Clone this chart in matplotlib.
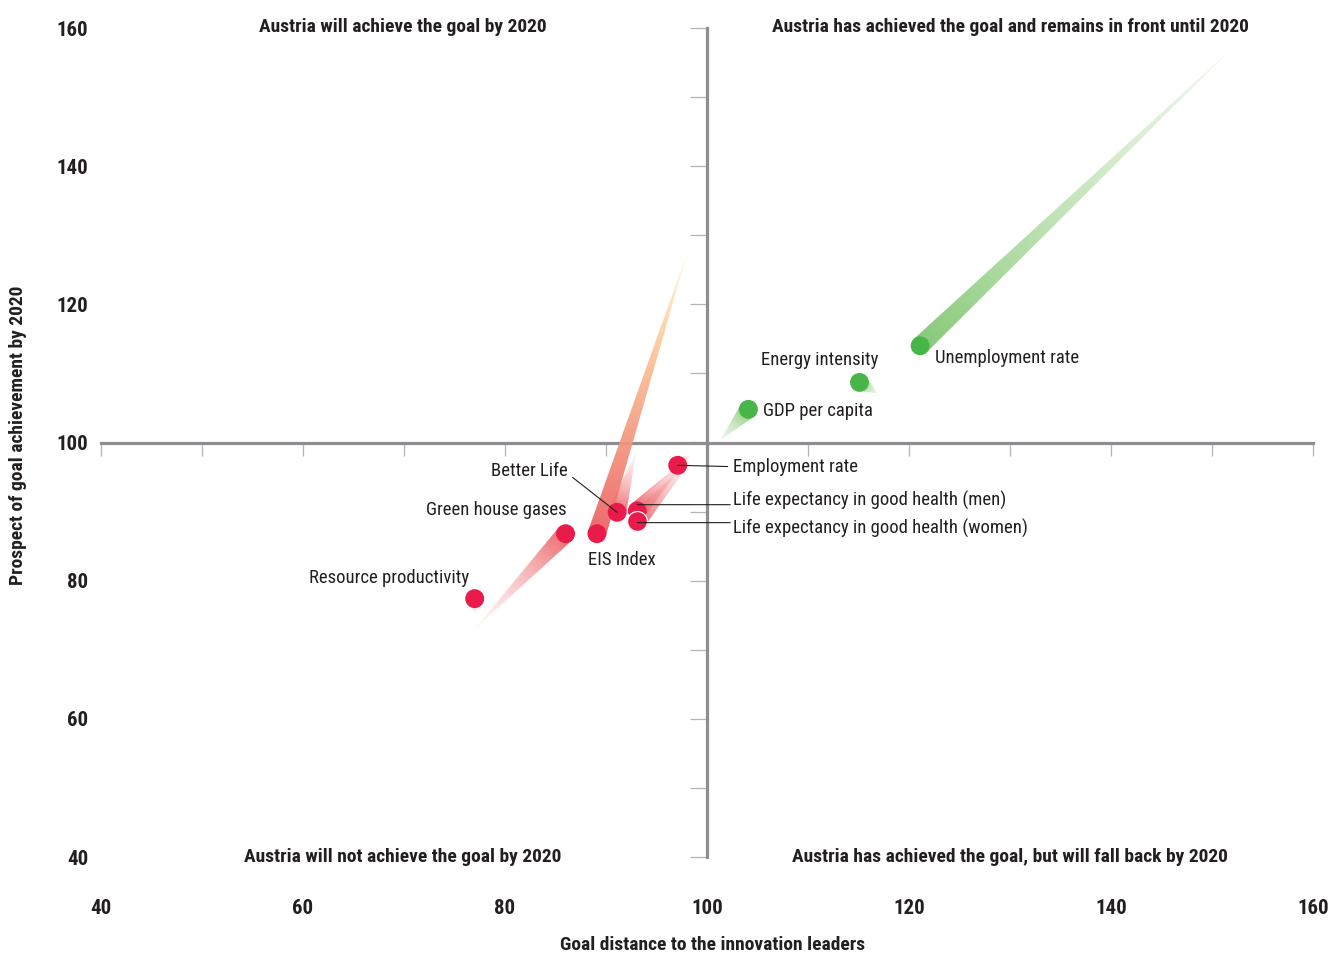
import numpy as np
import matplotlib
matplotlib.use("Agg")
import matplotlib.pyplot as plt
from matplotlib.patches import Polygon
from matplotlib import font_manager

# ---------------- data ----------------
names = ["Unemployment rate", "Energy intensity", "GDP per capita", "Employment rate",
         "Life expectancy in good health (men)", "Life expectancy in good health (women)",
         "Better Life", "EIS Index", "Green house gases", "Resource productivity"]
x_now = [121.1, 115.1, 104.1, 97.1, 93.1, 93.1, 91.1, 89.1, 86.0, 77.0]
y_now = [114.0, 108.7, 104.8, 96.7, 90.1, 88.7, 89.9, 86.8, 86.8, 77.4]
x_end = [151.8, 116.9, 101.3, 98.3, 98.2, 98.6, 93.0, 98.05, 77.0, 77.0]
y_end = [156.8, 107.1, 100.3, 98.1, 98.0, 97.7, 98.7, 127.5, 73.0, 75.3]
status = ["green", "green", "green", "red", "red", "red", "red", "orange", "red", "red"]

ticks = [40, 60, 80, 100, 120, 140, 160]
quad_titles = ["Austria will achieve the goal by 2020",
               "Austria has achieved the goal and remains in front until 2020",
               "Austria will not achieve the goal by 2020",
               "Austria has achieved the goal, but will fall back by 2020"]
xlabel = "Goal distance to the innovation leaders"
ylabel = "Prospect of goal achievement by 2020"


def pick(fams):
    for f in fams:
        try:
            font_manager.findfont(f, fallback_to_default=False)
            return f
        except Exception:
            pass
    return "DejaVu Sans"


FONT = pick(["Liberation Sans Narrow", "Roboto Condensed", "Liberation Sans", "Roboto"])
plt.rcParams["font.family"] = [FONT, "DejaVu Sans"]

DOT = {"green": "#47b548", "red": "#ea1a4b", "orange": "#ea1a4b"}
TRAIL = {
    "green": [(0.0, (0.53, 0.79, 0.47, 1.0)), (1.0, (0.82, 0.92, 0.78, 0.35))],
    "red": [(0.0, (0.93, 0.38, 0.40, 0.95)), (1.0, (0.99, 0.86, 0.86, 0.25))],
    "orange": [(0.0, (0.93, 0.38, 0.40, 0.95)), (0.35, (0.96, 0.60, 0.50, 0.92)),
               (0.7, (0.99, 0.78, 0.58, 0.85)), (1.0, (1.0, 0.95, 0.80, 0.6))],
}

W, H = 1333, 955
fig = plt.figure(figsize=(W / 100, H / 100), dpi=100)
rect = [101 / W, 1 - 857 / H, (1313 - 101) / W, (857 - 28) / H]

# axis lines (centre cross) on a background axes
axb = fig.add_axes(rect, zorder=0)
axb.set_xlim(40, 160)
axb.set_ylim(40, 160)
for s in ["top", "right"]:
    axb.spines[s].set_visible(False)
axb.spines["left"].set_position(("data", 100))
axb.spines["bottom"].set_position(("data", 100))
for s in ["left", "bottom"]:
    axb.spines[s].set_color("#8e8e92")
    axb.spines[s].set_linewidth(2.3)
axb.set_xticks(np.arange(40, 161, 10))
axb.set_yticks(np.arange(40, 161, 10))
axb.tick_params(axis="y", direction="out", length=12, width=0.9, color="#b4b4b6", labelleft=False)
axb.tick_params(axis="x", direction="out", length=9.5, width=0.9, color="#b4b4b6", labelbottom=False)
axb.patch.set_visible(False)

# main axes
ax = fig.add_axes(rect, zorder=1)
ax.patch.set_visible(False)
ax.set_xlim(40, 160)
ax.set_ylim(40, 160)
ax.set_autoscale_on(False)
for s in ax.spines.values():
    s.set_visible(False)
ax.set_xticks(ticks)
ax.set_yticks(ticks)
ax.set_xticklabels([str(t) for t in ticks], fontsize=15, fontweight="bold", color="#231f20")
ax.set_yticklabels([str(t) for t in ticks], fontsize=15, fontweight="bold", color="#231f20")
ax.tick_params(axis="x", length=0, pad=30)
ax.tick_params(axis="y", length=0, pad=9)

fig.canvas.draw()
T = ax.transData


def trail(x0, y0, x1, y1, stops, halfw, z):
    p0 = T.transform((x0, y0))
    p1 = T.transform((x1, y1))
    d = p1 - p0
    L = np.hypot(*d)
    u = d / L
    n = np.array([-u[1], u[0]])
    vd = np.array([p0 + n * halfw, p1, p0 - n * halfw])
    vdat = T.inverted().transform(vd)
    dmin = vd.min(0) - 1
    dmax = vd.max(0) + 1
    nx = int(dmax[0] - dmin[0]) + 2
    ny = int(dmax[1] - dmin[1]) + 2
    xs = np.linspace(dmin[0], dmax[0], nx)
    ys = np.linspace(dmin[1], dmax[1], ny)
    X, Y = np.meshgrid(xs, ys)
    t = np.clip(((X - p0[0]) * u[0] + (Y - p0[1]) * u[1]) / L, 0, 1)
    ts = [s[0] for s in stops]
    img = np.zeros((ny, nx, 4))
    for c in range(4):
        img[..., c] = np.interp(t, ts, [s[1][c] for s in stops])
    e0 = T.inverted().transform(dmin)
    e1 = T.inverted().transform(dmax)
    im = ax.imshow(img, extent=(e0[0], e1[0], e0[1], e1[1]), origin="lower",
                   aspect="auto", interpolation="bilinear", zorder=z)
    poly = Polygon(vdat, closed=True, transform=ax.transData, facecolor="none",
                   edgecolor="none")
    ax.add_patch(poly)
    im.set_clip_path(poly)


for i in range(len(names)):
    trail(x_now[i], y_now[i], x_end[i], y_end[i], TRAIL[status[i]], 9.3, 2 + i * 0.01)

for i in range(len(names)):
    outlined = names[i].endswith("(women)")
    ax.scatter([x_now[i]], [y_now[i]], s=185 if not outlined else 205,
               color=DOT[status[i]], edgecolors="white" if outlined else "none",
               linewidths=0.9 if outlined else 0, zorder=5 + i * 0.01)

ax.set_xlim(40, 160)
ax.set_ylim(40, 160)

# labels (layout positions)
lab_kw = dict(fontsize=13.5, color="#231f20", zorder=8)
line_kw = dict(arrowstyle="-", color="#231f20", lw=0.8, shrinkA=2, shrinkB=0)
# name -> (text x, text y, ha, leader)
lay = {
    "Unemployment rate": (122.6, 112.2, "left", False),
    "Energy intensity": (111.2, 111.9, "center", False),
    "GDP per capita": (105.5, 104.5, "left", False),
    "Employment rate": (102.6, 96.5, "left", True),
    "Life expectancy in good health (men)": (102.6, 91.6, "left", True),
    "Life expectancy in good health (women)": (102.6, 87.5, "left", True),
    "Better Life": (86.2, 95.9, "right", True),
    "EIS Index": (88.2, 83.0, "left", False),
    "Green house gases": (86.1, 90.3, "right", False),
    "Resource productivity": (76.4, 80.4, "right", False),
}
lead_y = {"Life expectancy in good health (men)": 91.0,
          "Life expectancy in good health (women)": 88.4}
for i, nm in enumerate(names):
    tx, ty, ha, lead = lay[nm]
    if lead:
        if nm in lead_y:
            ax.annotate("", xy=(x_now[i], lead_y[nm]), xytext=(tx - 0.3, lead_y[nm]),
                        arrowprops=dict(line_kw, shrinkA=0), zorder=8)
            ax.text(tx, ty, nm, ha=ha, va="center", **lab_kw)
        else:
            rp = (0, 0.5) if ha == "left" else (1.0, 0.35)
            ax.annotate(nm, xy=(x_now[i], y_now[i]), xytext=(tx, ty), ha=ha, va="center",
                        arrowprops=dict(line_kw, relpos=rp), **lab_kw)
    else:
        ax.text(tx, ty, nm, ha=ha, va="center", **lab_kw)

# quadrant titles
qk = dict(fontsize=14, fontweight="bold", color="#231f20", ha="center", va="center", zorder=8)
ax.text(69.9, 160.1, quad_titles[0], **qk)
ax.text(130.0, 160.1, quad_titles[1], **qk)
ax.text(69.9, 40.0, quad_titles[2], **qk)
ax.text(130.0, 40.0, quad_titles[3], **qk)

fig.text(713 / W, 1 - 945 / H, xlabel, ha="center", va="center", fontsize=14,
         fontweight="bold", color="#231f20")
fig.text(18 / W, 1 - 435 / H, ylabel, ha="center", va="center", rotation=90, fontsize=14,
         fontweight="bold", color="#231f20")

fig.savefig("out.png", dpi=100)
